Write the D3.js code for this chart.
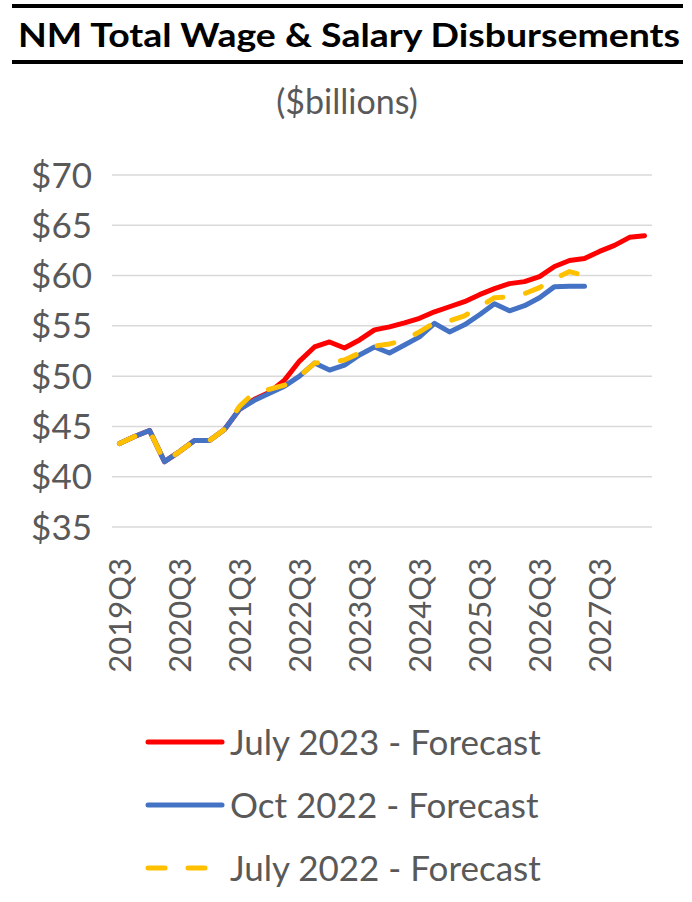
<!DOCTYPE html>
<html>
<head>
<meta charset="utf-8">
<script src="https://cdn.jsdelivr.net/npm/d3@7"></script>
<style>
  body { margin: 0; background: #fff; }
  svg { display: block; }
</style>
</head>
<body>
<svg width="692" height="902"></svg>
<script>
// quarters on the category axis (2019Q3 .. 2028Q2)
const quarters = [
    "2019Q3", "2019Q4", "2020Q1", "2020Q2", "2020Q3", "2020Q4", "2021Q1", "2021Q2",
    "2021Q3", "2021Q4", "2022Q1", "2022Q2", "2022Q3", "2022Q4", "2023Q1", "2023Q2",
    "2023Q3", "2023Q4", "2024Q1", "2024Q2", "2024Q3", "2024Q4", "2025Q1", "2025Q2",
    "2025Q3", "2025Q4", "2026Q1", "2026Q2", "2026Q3", "2026Q4", "2027Q1", "2027Q2",
    "2027Q3", "2027Q4", "2028Q1", "2028Q2"
];
const tickLabels = ["2019Q3", "2020Q3", "2021Q3", "2022Q3", "2023Q3", "2024Q3", "2025Q3", "2026Q3", "2027Q3"];
const yTicks = [35, 40, 45, 50, 55, 60, 65, 70];

// $billions
const july2023 = [
    43.3, 44.0, 44.6, 41.5, 42.5, 43.6, 43.6, 44.7,
    46.7, 47.7, 48.4, 49.6, 51.5, 52.9, 53.4, 52.8,
    53.6, 54.6, 54.9, 55.3, 55.75, 56.4, 56.9, 57.4,
    58.1, 58.7, 59.2, 59.4, 59.9, 60.9, 61.5, 61.7,
    62.4, 63.0, 63.8, 63.95
];
const oct2022 = [
    43.3, 44.0, 44.6, 41.5, 42.5, 43.6, 43.6, 44.7,
    46.7, 47.6, 48.3, 49.0, 50.0, 51.3, 50.6, 51.1,
    52.1, 52.9, 52.3, 53.1, 53.9, 55.25, 54.4, 55.1,
    56.1, 57.2, 56.5, 57.0, 57.8, 58.9, 58.95, 58.95
];
const july2022 = [
    43.3, 44.0, 44.6, 41.5, 42.5, 43.6, 43.6, 44.7,
    47.0, 48.4, 48.7, 49.1, 50.0, 51.3, 51.4, 51.6,
    52.3, 53.0, 53.2, 53.6, 54.4, 55.3, 55.5, 56.0,
    56.9, 57.8, 57.9, 58.2, 58.8, 59.7, 60.4, 60.0
];

const seriesNames = ["July 2023 - Forecast", "Oct 2022 - Forecast", "July 2022 - Forecast"];
const seriesColors = ["#ff0000", "#4472c4", "#ffc000"];

const svg = d3.select("svg");
const font = "Lato, 'Open Sans', sans-serif";
const grey = "#595959";

const x = d3.scaleBand().domain(quarters).range([112, 652]).padding(0);
const y = d3.scaleLinear().domain([35, 70]).range([527, 175]);
const cx = d => x(d) + x.bandwidth() / 2;

// title with rules above and below
svg.append("line")
    .attr("x1", 12).attr("x2", 683).attr("y1", 6).attr("y2", 6)
    .attr("stroke", "#000").attr("stroke-width", 4);
svg.append("line")
    .attr("x1", 12).attr("x2", 683).attr("y1", 62).attr("y2", 62)
    .attr("stroke", "#000").attr("stroke-width", 4);
svg.append("text")
    .attr("x", 349).attr("y", 47)
    .attr("text-anchor", "middle")
    .attr("textLength", 662)
    .attr("lengthAdjust", "spacingAndGlyphs")
    .style("font-family", font).style("font-weight", "bold").style("font-size", "33px")
    .attr("fill", "#000")
    .text("NM Total Wage & Salary Disbursements");

svg.append("text")
    .attr("x", 347).attr("y", 114)
    .attr("text-anchor", "middle")
    .style("font-family", font).style("font-size", "34px")
    .attr("fill", grey)
    .text("($billions)");

// gridlines
svg.append("g")
    .selectAll("line")
    .data(yTicks)
    .enter().append("line")
    .attr("x1", 112).attr("x2", 652)
    .attr("y1", d => y(d)).attr("y2", d => y(d))
    .attr("stroke", "#d9d9d9").attr("stroke-width", 1.5);

// y tick labels
svg.append("g")
    .selectAll("text")
    .data(yTicks)
    .enter().append("text")
    .attr("x", 92).attr("y", d => y(d))
    .attr("dy", "0.36em")
    .attr("text-anchor", "end")
    .style("font-family", font).style("font-size", "35px")
    .attr("fill", grey)
    .text(d => "$" + d);

// x tick labels, rotated
svg.append("g")
    .selectAll("text")
    .data(tickLabels)
    .enter().append("text")
    .attr("transform", d => "translate(" + cx(d) + ",558) rotate(-90)")
    .attr("dy", "0.36em")
    .attr("text-anchor", "end")
    .style("font-family", font).style("font-size", "31px")
    .attr("fill", grey)
    .text(d => d);

// lines
const line = d3.line()
    .x((d, i) => cx(quarters[i]))
    .y(d => y(d));

const allSeries = [july2023, oct2022, july2022];
allSeries.forEach(function(vals, k) {
    svg.append("path")
        .datum(vals)
        .attr("fill", "none")
        .attr("stroke", seriesColors[k])
        .attr("stroke-width", 5)
        .attr("stroke-linejoin", "round")
        .attr("stroke-linecap", "round")
        .attr("stroke-dasharray", k === 2 ? "17,23" : null)
        .attr("d", line);
});

// legend
const legend = svg.append("g")
    .selectAll("g")
    .data(seriesNames)
    .enter().append("g")
    .attr("transform", (d, i) => "translate(0," + (742 + i * 63) + ")");

legend.append("line")
    .attr("x1", 148).attr("x2", 222)
    .attr("stroke", (d, i) => seriesColors[i])
    .attr("stroke-width", 5)
    .attr("stroke-linecap", "round")
    .attr("stroke-dasharray", (d, i) => i === 2 ? "17,23" : null);

legend.append("text")
    .attr("x", 230)
    .attr("dy", "0.36em")
    .style("font-family", font).style("font-size", "35px")
    .attr("fill", grey)
    .text(d => d);
</script>
</body>
</html>
